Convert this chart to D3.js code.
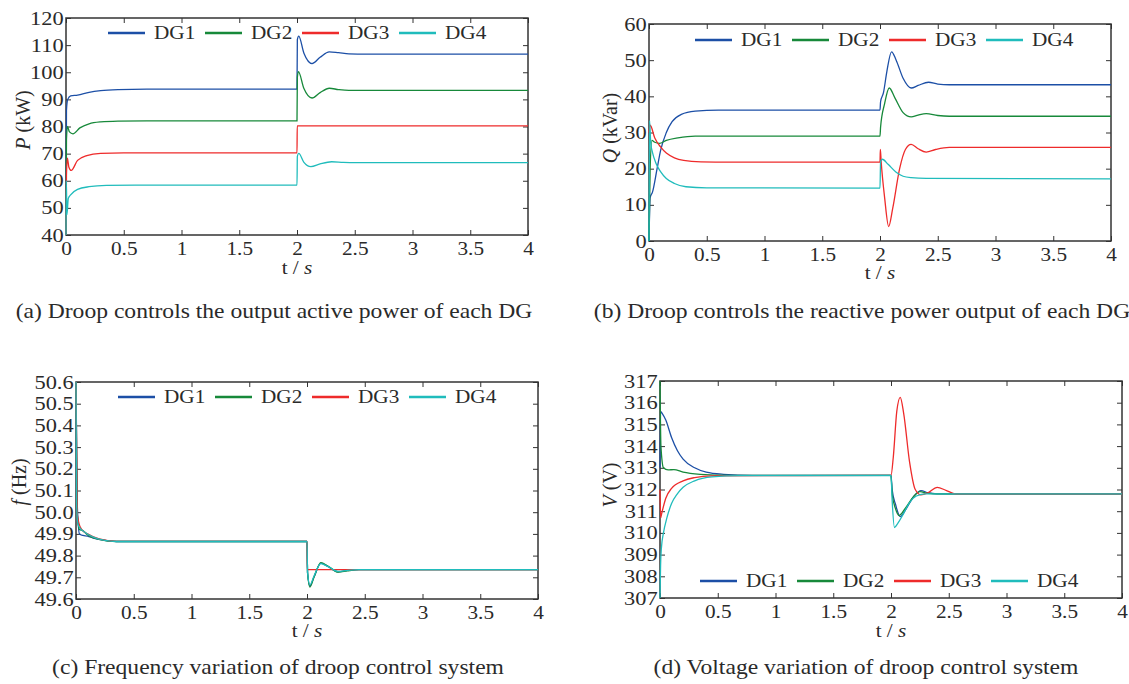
<!DOCTYPE html>
<html>
<head>
<meta charset="utf-8">
<script src="https://cdn.jsdelivr.net/npm/d3@7"></script>
<style>
  html, body { margin: 0; padding: 0; background: #fff; }
  svg { display: block; }
  text { font-family: "Liberation Serif", "Times New Roman", serif; fill: #2a2a2a; }
</style>
</head>
<body>
<svg id="chart" width="1129" height="684"></svg>
<script>
// series names + colours
const seriesNames = ['DG1', 'DG2', 'DG3', 'DG4'];
const seriesColors = ['#1c4fa6', '#17893a', '#ee2b2b', '#20bcbc'];

// tick labels
const timeTicks = [0, 0.5, 1, 1.5, 2, 2.5, 3, 3.5, 4];
const pTicks = [40, 50, 60, 70, 80, 90, 100, 110, 120];
const qTicks = [0, 10, 20, 30, 40, 50, 60];
const fTicks = [49.6, 49.7, 49.8, 49.9, 50.0, 50.1, 50.2, 50.3, 50.4, 50.5, 50.6];
const vTicks = [307, 308, 309, 310, 311, 312, 313, 314, 315, 316, 317];

// (a) active power P, kW  [t, value]
const pDG1 = [[0, 40], [0.004, 86], [0.015, 90], [0.04, 91.3], [0.1, 91.6], [0.2, 92.6], [0.3, 93.2], [0.45, 93.6], [0.7, 93.8], [2, 93.8],
  [2.003, 112], [2.015, 113.3], [2.06, 107], [2.13, 103.2], [2.2, 105.5], [2.28, 107.5], [2.36, 107.2], [2.45, 106.8], [2.6, 106.7], [4, 106.7]];
const pDG2 = [[0, 40], [0.004, 75], [0.012, 80], [0.03, 78], [0.06, 77.3], [0.12, 79.5], [0.2, 81], [0.3, 81.7], [0.45, 82], [0.7, 82.1], [2, 82.1],
  [2.003, 98], [2.012, 100.2], [2.06, 94], [2.13, 90.5], [2.2, 92.5], [2.28, 94.1], [2.36, 93.6], [2.45, 93.3], [4, 93.3]];
const pDG3 = [[0, 40], [0.004, 62], [0.012, 68.3], [0.025, 65], [0.045, 63.8], [0.1, 67.5], [0.18, 69.3], [0.3, 70.1], [0.5, 70.3], [2, 70.3],
  [2.002, 80.2], [4, 80.2]];
const pDG4 = [[0, 40], [0.003, 60], [0.008, 47.5], [0.02, 53.5], [0.04, 54.8], [0.1, 56.8], [0.2, 57.8], [0.35, 58.3], [0.6, 58.4], [2, 58.4],
  [2.003, 69], [2.015, 70.1], [2.06, 66.8], [2.12, 65.2], [2.2, 66.2], [2.3, 67], [2.4, 66.8], [2.5, 66.7], [4, 66.7]];

// (b) reactive power Q, kVar
const qDG1 = [[0, 0], [0.01, 12], [0.03, 13.5], [0.07, 20], [0.1, 25], [0.15, 30], [0.2, 33], [0.28, 35], [0.4, 35.9], [0.6, 36.2], [2, 36.2],
  [2.005, 38.5], [2.03, 41], [2.06, 47], [2.1, 52.3], [2.14, 50], [2.2, 45], [2.27, 42.3], [2.33, 43], [2.42, 43.9], [2.5, 43.4], [2.6, 43.2], [4, 43.2]];
const qDG2 = [[0, 0], [0.01, 20], [0.025, 27.8], [0.05, 27.3], [0.09, 27], [0.15, 27.8], [0.25, 28.5], [0.4, 29], [0.6, 29], [2, 29],
  [2.005, 31.5], [2.04, 38], [2.08, 42.3], [2.13, 39.5], [2.2, 35.5], [2.27, 34.3], [2.33, 34.8], [2.4, 35.2], [2.5, 34.7], [2.6, 34.5], [4, 34.5]];
const qDG3 = [[0, 30], [0.01, 32], [0.05, 28.5], [0.1, 26], [0.15, 24.3], [0.22, 23], [0.3, 22.3], [0.45, 21.9], [0.7, 21.8], [2, 21.8],
  [2.003, 25.3], [2.01, 22], [2.04, 12], [2.075, 4], [2.11, 9], [2.17, 20], [2.22, 25.3], [2.27, 26.7], [2.33, 25.5], [2.4, 24.6], [2.48, 25.3], [2.6, 25.9], [4, 25.9]];
const qDG4 = [[0, 0], [0.005, 33.3], [0.015, 27], [0.03, 24.5], [0.06, 21.5], [0.1, 19.2], [0.15, 17.3], [0.22, 15.9], [0.32, 15], [0.5, 14.7], [2, 14.6],
  [2.005, 22], [2.02, 22.6], [2.07, 21.2], [2.14, 19], [2.2, 17.9], [2.27, 17.5], [2.4, 17.3], [4, 17.2]];

// (c) frequency f, Hz
const fDG1 = [[0, 50.6], [0.01, 50.05], [0.03, 49.9], [0.06, 49.893], [0.1, 49.89], [0.15, 49.88], [0.25, 49.87], [0.35, 49.865], [2, 49.865],
  [2.005, 49.72], [2.025, 49.66], [2.06, 49.7], [2.12, 49.765], [2.18, 49.75], [2.27, 49.725], [2.35, 49.732], [2.45, 49.735], [4, 49.735]];
const fDG2 = [[0, 50.6], [0.01, 50.0], [0.03, 49.92], [0.06, 49.915], [0.1, 49.895], [0.2, 49.875], [0.35, 49.865], [2, 49.865],
  [2.005, 49.72], [2.025, 49.655], [2.06, 49.7], [2.12, 49.768], [2.18, 49.752], [2.27, 49.724], [2.35, 49.73], [2.45, 49.735], [4, 49.735]];
const fDG3 = [[0, 50.6], [0.01, 50.0], [0.025, 49.95], [0.05, 49.92], [0.1, 49.9], [0.2, 49.877], [0.35, 49.866], [2, 49.866],
  [2.003, 49.735], [4, 49.735]];
const fDG4 = [[0, 50.6], [0.005, 50.04], [0.015, 49.95], [0.03, 49.93], [0.07, 49.91], [0.15, 49.885], [0.25, 49.87], [0.35, 49.865], [2, 49.865],
  [2.005, 49.72], [2.025, 49.665], [2.06, 49.705], [2.12, 49.763], [2.18, 49.75], [2.27, 49.727], [2.35, 49.732], [2.45, 49.735], [4, 49.735]];

// (d) voltage V, V
const vDG1 = [[0, 313], [0.005, 315.6], [0.02, 315.5], [0.05, 315.2], [0.1, 314.4], [0.15, 313.8], [0.2, 313.4], [0.3, 313], [0.4, 312.8], [0.55, 312.7], [0.8, 312.65], [2, 312.65],
  [2.01, 312], [2.04, 311.3], [2.08, 310.75], [2.13, 311.1], [2.2, 311.7], [2.26, 311.95], [2.32, 311.85], [2.4, 311.8], [4, 311.8]];
const vDG2 = [[0, 317], [0.008, 314], [0.03, 313], [0.07, 312.9], [0.12, 312.92], [0.2, 312.8], [0.35, 312.7], [0.6, 312.65], [2, 312.65],
  [2.01, 311.8], [2.04, 311.1], [2.07, 310.8], [2.12, 311.1], [2.2, 311.7], [2.25, 311.9], [2.32, 311.82], [2.4, 311.8], [4, 311.8]];
const vDG3 = [[0, 312], [0.006, 310.7], [0.015, 310.9], [0.05, 311.6], [0.1, 312.05], [0.2, 312.4], [0.3, 312.55], [0.45, 312.63], [2, 312.65],
  [2.02, 313.5], [2.05, 315.6], [2.08, 316.25], [2.11, 315.5], [2.16, 313.3], [2.21, 312], [2.26, 311.75], [2.32, 311.85], [2.4, 312.1], [2.48, 311.95], [2.56, 311.8], [4, 311.8]];
const vDG4 = [[0, 307], [0.005, 308.5], [0.012, 309.3], [0.03, 310], [0.06, 310.7], [0.1, 311.35], [0.15, 311.8], [0.2, 312.1], [0.3, 312.4], [0.45, 312.58], [0.7, 312.64], [2, 312.65],
  [2.01, 311.5], [2.03, 310.25], [2.06, 310.45], [2.1, 310.8], [2.16, 311.4], [2.22, 311.7], [2.3, 311.8], [4, 311.8]];

const SX = 1.18; // reference text is a bit wide

const panels = [
  {
    left: 66, top: 18, yDomain: [40, 120], yTicks: pTicks, fmt: d3.format('d'),
    series: [pDG1, pDG2, pDG3, pDG4], yItalic: 'P', yRest: ' (kW)', yLabelX: 30, yLabelY: 120,
    legendX: 42, legendY: 33, xLabelY: 274, captionX: 274, captionY: 318,
    caption: '(a) Droop controls the output active power of each DG'
  },
  {
    left: 649, top: 24, yDomain: [0, 60], yTicks: qTicks, fmt: d3.format('d'),
    series: [qDG1, qDG2, qDG3, qDG4], yItalic: 'Q', yRest: ' (kVar)', yLabelX: 617, yLabelY: 128,
    legendX: 46, legendY: 40, xLabelY: 279, captionX: 862, captionY: 318,
    caption: '(b) Droop controls the reactive power output of each DG'
  },
  {
    left: 76, top: 382, yDomain: [49.6, 50.6], yTicks: fTicks, fmt: d3.format('.1f'),
    series: [fDG1, fDG2, fDG3, fDG4], yItalic: 'f', yRest: ' (Hz)', yLabelX: 26, yLabelY: 482,
    legendX: 42, legendY: 397, xLabelY: 637, captionX: 278, captionY: 674,
    caption: '(c) Frequency variation of droop control system'
  },
  {
    left: 660, top: 381, yDomain: [307, 317], yTicks: vTicks, fmt: d3.format('d'),
    series: [vDG1, vDG2, vDG3, vDG4], yItalic: 'V', yRest: ' (V)', yLabelX: 617, yLabelY: 485,
    legendX: 40, legendY: 581, xLabelY: 637, captionX: 866, captionY: 674,
    caption: '(d) Voltage variation of droop control system'
  }
];

const W = 462, H = 217;
const svg = d3.select('#chart');

function styleAxis(ax, size) {
  ax.select('.domain').remove();
  ax.selectAll('.tick line').attr('stroke', '#333').attr('stroke-width', 1);
  ax.selectAll('.tick text')
    .attr('font-size', size || 17.5)
    .attr('fill', '#2a2a2a')
    .attr('font-family', '"Liberation Serif", "Times New Roman", serif')
    .attr('transform', `scale(${SX},1)`);
}

panels.forEach((p) => {
  const g = svg.append('g').attr('transform', `translate(${p.left},${p.top})`);

  const x = d3.scaleLinear().domain([0, 4]).range([0, W]);
  const y = d3.scaleLinear().domain(p.yDomain).range([H, 0]);

  // axes, ticks pointing inward on every side
  g.append('g').attr('transform', `translate(0,${H})`)
    .call(d3.axisBottom(x).tickValues(timeTicks).tickSizeInner(-5).tickSizeOuter(0).tickPadding(7).tickFormat(d3.format('~g')))
    .call(styleAxis, 18);
  g.append('g')
    .call(d3.axisTop(x).tickValues(timeTicks).tickSizeInner(-5).tickSizeOuter(0).tickFormat(''))
    .call(styleAxis);
  g.append('g')
    .call(d3.axisLeft(y).tickValues(p.yTicks).tickSizeInner(-5).tickSizeOuter(0).tickPadding(2).tickFormat(p.fmt))
    .call(styleAxis, 19);
  g.append('g').attr('transform', `translate(${W},0)`)
    .call(d3.axisRight(y).tickValues(p.yTicks).tickSizeInner(-5).tickSizeOuter(0).tickFormat(''))
    .call(styleAxis);

  g.append('rect')
    .attr('width', W).attr('height', H)
    .attr('fill', 'none').attr('stroke', '#333').attr('stroke-width', 1.5);

  const line = d3.line()
    .x((d) => x(d[0]))
    .y((d) => y(d[1]))
    .curve(d3.curveMonotoneX);

  g.selectAll('.series')
    .data(p.series)
    .enter()
    .append('path')
    .attr('class', 'series')
    .attr('d', line)
    .attr('fill', 'none')
    .attr('stroke', (d, i) => seriesColors[i])
    .attr('stroke-width', 1.3);

  // legend
  const leg = g.append('g').attr('transform', `translate(${p.legendX},${p.legendY - p.top})`);
  const items = leg.selectAll('.item')
    .data(seriesNames)
    .enter()
    .append('g')
    .attr('class', 'item')
    .attr('transform', (d, i) => `translate(${i * 97},0)`);
  items.append('line')
    .attr('x1', 0).attr('x2', 37)
    .attr('stroke', (d, i) => seriesColors[i])
    .attr('stroke-width', 2.6);
  items.append('text')
    .attr('transform', `translate(46,6) scale(${SX},1)`)
    .attr('font-size', 18)
    .text((d) => d);

  // axis titles
  const yl = svg.append('text')
    .attr('transform', `translate(${p.yLabelX},${p.yLabelY}) rotate(-90)`)
    .attr('text-anchor', 'middle')
    .attr('font-size', 20);
  yl.append('tspan').attr('font-style', 'italic').text(p.yItalic);
  yl.append('tspan').text(p.yRest);

  const xl = svg.append('text')
    .attr('transform', `translate(${p.left + W / 2},${p.xLabelY}) scale(${SX},1)`)
    .attr('text-anchor', 'middle')
    .attr('font-size', 18);
  xl.append('tspan').text('t / ');
  xl.append('tspan').attr('font-style', 'italic').text('s');

  svg.append('text')
    .attr('transform', `translate(${p.captionX},${p.captionY}) scale(${SX},1)`)
    .attr('text-anchor', 'middle')
    .attr('font-size', 20)
    .text(p.caption);
});
</script>
</body>
</html>
